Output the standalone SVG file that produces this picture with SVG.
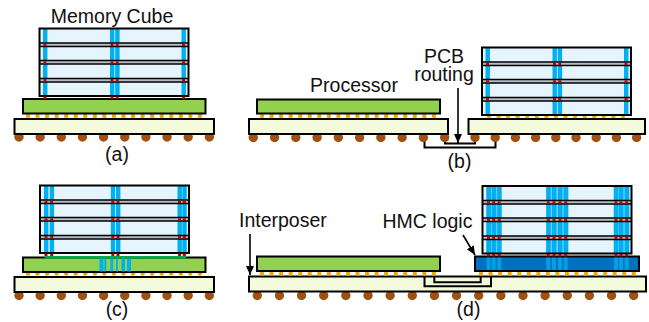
<svg xmlns="http://www.w3.org/2000/svg" width="649" height="322" viewBox="0 0 649 322">
<style>
text{font-family:"Liberation Sans",Arial,sans-serif;font-size:19.5px;fill:#111}
.m{text-anchor:middle}
.k{stroke:#000;stroke-width:2}
.pkg{fill:#f3fbdc}
.cpu{fill:#92d050}
.bump{fill:none;stroke:#f0a800;stroke-width:4.4;stroke-linecap:round}
.ball{fill:none;stroke:#a05010;stroke-width:9.4;stroke-linecap:round}
.w{fill:none;stroke:#000;stroke-width:2}
.a{fill:none;stroke:#000;stroke-width:1.6}
.band{fill:#70cdf5}
</style>
<defs>
<rect id="cube-base" width="149" height="67.5" fill="#e6f4fd"/>
<g id="cube-top">
<rect y="14.5" width="149" height="3.5" fill="#b4bec8"/>
<rect y="32" width="149" height="3.5" fill="#b4bec8"/>
<rect y="50" width="149" height="3.5" fill="#b4bec8"/>
<path d="M0 14.5H149M0 18H149M0 32H149M0 35.500H149M0 50H149M0 53.500H149" fill="none" stroke="#000" stroke-width="1.6"/>
<rect width="149" height="67.5" fill="none" stroke="#000" stroke-width="2"/>
</g>
<rect id="t" x="-2" width="4.400" height="67.5" fill="#00b0f0"/>
<path id="r" d="M0 15.200V71" stroke="#c00000" stroke-width="3" stroke-dasharray="2.500 15.100" fill="none"/>
<path id="r3" d="M0 15.200V54" stroke="#c00000" stroke-width="3" stroke-dasharray="2.500 15.100" fill="none"/>
<marker id="ah" markerUnits="userSpaceOnUse" markerWidth="10" markerHeight="10" refX="9" refY="4" orient="auto"><path d="M0 0L9 4L0 8Z" fill="#000"/></marker>
</defs>

<g id="connectors">
<path class="w" d="M424.500 138V147.500H495.500V138"/>
<path class="w" d="M445 138V143.500H475V138"/>
<path class="a" marker-end="url(#ah)" d="M458 88V143"/>
<path class="a" marker-end="url(#ah)" d="M250 234V275"/>
<path class="a" marker-end="url(#ah)" d="M463 235L475 255"/>
</g>

<g id="panel-a">
<path class="ball" d="M19 137H210" stroke-dasharray="0 21.150"/>
<rect class="pkg k" x="14.500" y="119" width="199.500" height="15"/>
<path class="bump" d="M28 116H201" stroke-dasharray="0 9.550"/>
<rect class="cpu k" x="23" y="99" width="182.500" height="14.500"/>
<g id="a-cube" transform="translate(39.500 28.500)">
<use href="#cube-base"/>
<use href="#t" x="5.500"/><use href="#t" x="72.500"/><use href="#t" x="77.700"/><use href="#t" x="144"/>
<use href="#cube-top"/>
<use href="#r" x="5.500"/><use href="#r" x="72.500"/><use href="#r" x="77.700"/><use href="#r" x="144"/>
</g>
<text class="m" x="112" y="22.700">Memory Cube</text>
<text class="m" x="117" y="161">(a)</text>
</g>

<g id="panel-b">
<path class="ball" d="M253.300 137.500H447" stroke-dasharray="0 21.260"/>
<rect class="pkg k" x="249" y="119" width="199" height="15"/>
<path class="bump" d="M262 116H435" stroke-dasharray="0 9.550"/>
<rect class="cpu k" x="257" y="99.500" width="183" height="14"/>
<path class="ball" d="M475 137.500H638" stroke-dasharray="0 20.200"/>
<rect class="pkg k" x="468.500" y="119" width="176.500" height="15"/>
<path class="bump" d="M489 116H624" stroke-dasharray="0 9.570"/>
<g id="b-cube" transform="translate(482 47.500)">
<use href="#cube-base"/>
<use href="#t" x="5.500"/><use href="#t" x="72.500"/><use href="#t" x="77.700"/><use href="#t" x="144"/>
<use href="#cube-top"/>
<use href="#r3" x="5.500"/><use href="#r3" x="72.500"/><use href="#r3" x="77.700"/><use href="#r3" x="144"/>
</g>
<text class="m" x="354" y="92">Processor</text>
<text class="m"><tspan x="444" y="62.700">PCB</tspan><tspan x="444" y="81">routing</tspan></text>
<text class="m" x="459.500" y="168">(b)</text>
</g>

<g id="panel-c">
<path class="ball" d="M19 295.500H210" stroke-dasharray="0 21.150"/>
<rect class="pkg k" x="14.500" y="277" width="199.500" height="15"/>
<path class="bump" d="M28 273.500H201" stroke-dasharray="0 9.550"/>
<rect class="cpu k" x="23" y="257.500" width="182.500" height="14.500"/>
<rect x="45" y="256" width="141" height="2.500" fill="#00a850"/>
<g fill="#00b0f0"><rect x="99.500" y="258.500" width="4" height="13"/><rect x="104.300" y="258.500" width="2" height="13"/><rect x="110.300" y="258.500" width="2.800" height="13"/><rect x="116" y="258.500" width="1.800" height="13"/><rect x="121.500" y="258.500" width="3.500" height="13"/><rect x="127" y="258.500" width="4" height="13"/></g>
<g id="c-cube" transform="translate(40 185.500)">
<use href="#cube-base"/>
<use href="#t" x="6"/><use href="#t" x="11.700"/><use href="#t" x="72.800"/><use href="#t" x="78"/><use href="#t" x="139.500"/><use href="#t" x="144.300"/>
<use href="#cube-top"/>
<use href="#r" x="6"/><use href="#r" x="11.700"/><use href="#r" x="72.800"/><use href="#r" x="78"/><use href="#r" x="139.500"/><use href="#r" x="144.300"/>
</g>
<text class="m" x="117" y="316">(c)</text>
</g>

<g id="panel-d">
<path class="ball" d="M257.300 295.500H635" stroke-dasharray="0 22.140"/>
<rect class="pkg k" x="249" y="276.500" width="397" height="15"/>
<path class="bump" d="M262 273.500H435" stroke-dasharray="0 9.550"/>
<path class="bump" d="M481 273.500H636" stroke-dasharray="0 9.550"/>
<rect class="cpu k" x="257" y="256.500" width="183" height="14.500"/>
<g id="d-logic">
<rect x="475" y="256.500" width="164" height="14.500" fill="#0070c0"/>
<g fill="#00a0e8" transform="translate(482.500 0)"><rect x="4" y="257" width="4" height="14"/><rect x="9.200" y="257" width="4" height="14"/><rect x="14.700" y="257" width="4" height="14"/><rect x="63.800" y="257" width="4" height="14"/><rect x="69.500" y="257" width="4" height="14"/><rect x="75.500" y="257" width="4" height="14"/><rect x="81.200" y="257" width="4" height="14"/><rect x="131.500" y="257" width="4" height="14"/><rect x="136.500" y="257" width="4" height="14"/><rect x="142.200" y="257" width="4" height="14"/></g>
<rect x="475" y="256.500" width="164" height="14.500" fill="none" stroke="#000" stroke-width="2"/>
</g>
<g id="d-cube" transform="translate(482.500 186)">
<use href="#cube-base"/>
<rect class="band" x="3.500" width="15.500" height="67.500"/><rect class="band" x="63.500" width="22.500" height="67.500"/><rect class="band" x="131" width="16" height="67.500"/>
<use href="#t" x="6"/><use href="#t" x="11.200"/><use href="#t" x="16.700"/>
<use href="#t" x="65.800"/><use href="#t" x="71.500"/><use href="#t" x="77.500"/><use href="#t" x="83.200"/>
<use href="#t" x="133.500"/><use href="#t" x="138.500"/><use href="#t" x="144.200"/>
<use href="#cube-top"/>
<use href="#r" x="6"/><use href="#r" x="11.200"/><use href="#r" x="16.700"/>
<use href="#r" x="65.800"/><use href="#r" x="71.500"/><use href="#r" x="77.500"/><use href="#r" x="83.200"/>
<use href="#r" x="133.500"/><use href="#r" x="138.500"/><use href="#r" x="144.200"/>
</g>
<path class="w" d="M424.500 277V286.300H491V277"/>
<path class="w" d="M434.300 277V282.300H480.700V277"/>
<text x="239" y="226.700">Interposer</text>
<text x="382.500" y="228.300">HMC logic</text>
<text class="m" x="468.500" y="316">(d)</text>
</g>
</svg>
